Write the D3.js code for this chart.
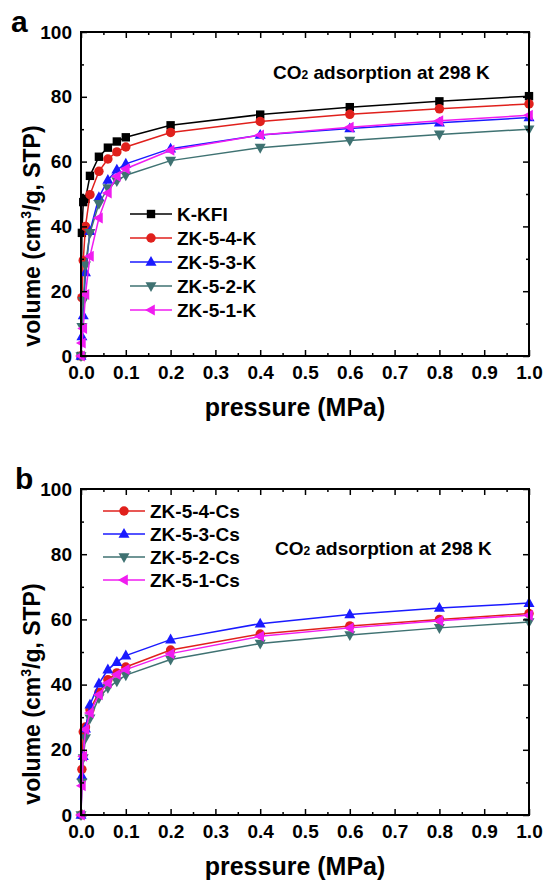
<!DOCTYPE html>
<html>
<head>
<meta charset="utf-8">
<script src="https://cdn.jsdelivr.net/npm/d3@7/dist/d3.min.js"></script>
<style>
  body { margin: 0; background: #fff; }
  svg { display: block; font-family: 'Liberation Sans', Arial, sans-serif; font-weight: bold; }
</style>
</head>
<body>
<svg id="chart" width="544" height="881"></svg>
<script>
// pressure points (MPa), shared by every isotherm
const pressure = [0, 0.002, 0.005, 0.01, 0.02, 0.04, 0.06, 0.08, 0.1, 0.2, 0.4, 0.6, 0.8, 1.0];

// panel a: K-form samples
const kKFI = [0, 38, 47.5, 48.5, 55.6, 61.5, 64.3, 66.2, 67.5, 71.2, 74.5, 76.8, 78.6, 80.2];
const zk54K = [0, 18, 29.5, 40, 49.8, 57, 60.8, 63, 64.5, 69, 72.4, 74.6, 76.3, 77.8];
const zk53K = [0, 6, 12.5, 25.8, 38.5, 49, 54.3, 57.5, 59.3, 64, 68.2, 70.2, 72, 73.6];
const zk52K = [0, 9, 17, 28, 38, 47, 51.8, 54, 55.8, 60.3, 64.3, 66.5, 68.4, 70];
const zk51K = [0, 4, 8.5, 19, 30.8, 42.6, 50.3, 55.5, 57.8, 63.5, 68.2, 70.6, 72.6, 74.3];

// panel b: Cs-form samples
const zk54Cs = [0, 14, 25.5, 27, 32.3, 37.6, 41.5, 43.6, 45.4, 50.6, 55.5, 58, 60, 61.8];
const zk53Cs = [0, 12, 18, 26.5, 33.8, 40.3, 44.6, 46.9, 48.9, 53.8, 58.7, 61.5, 63.5, 65];
const zk52Cs = [0, 10, 17.5, 23.6, 29.7, 35.9, 39, 41, 42.9, 47.7, 52.6, 55.2, 57.4, 59.2];
const zk51Cs = [0, 9, 18, 26.2, 31.3, 36.9, 40.5, 43.1, 44.6, 49.5, 54.8, 57.4, 59.6, 61.3];

const xTicks = [0, 0.1, 0.2, 0.3, 0.4, 0.5, 0.6, 0.7, 0.8, 0.9, 1.0];
const yTicks = [0, 20, 40, 60, 80, 100];

const color = {
  black: '#000000',
  red: '#e0201c',
  blue: '#1a1aff',
  teal: '#3f7272',
  magenta: '#f01cf0'
};

const panels = [
  {
    label: 'a', top: 32, bottom: 356,
    legend: { x: 130, y: 214, step: 24 },
    note: { x: 273, y: 79 },
    series: [
      { name: 'K-KFI', values: kKFI, color: color.black, symbol: 'square' },
      { name: 'ZK-5-4-K', values: zk54K, color: color.red, symbol: 'circle' },
      { name: 'ZK-5-3-K', values: zk53K, color: color.blue, symbol: 'up' },
      { name: 'ZK-5-2-K', values: zk52K, color: color.teal, symbol: 'down' },
      { name: 'ZK-5-1-K', values: zk51K, color: color.magenta, symbol: 'left' }
    ]
  },
  {
    label: 'b', top: 489, bottom: 815,
    legend: { x: 103, y: 511, step: 23 },
    note: { x: 275, y: 555 },
    series: [
      { name: 'ZK-5-4-Cs', values: zk54Cs, color: color.red, symbol: 'circle' },
      { name: 'ZK-5-3-Cs', values: zk53Cs, color: color.blue, symbol: 'up' },
      { name: 'ZK-5-2-Cs', values: zk52Cs, color: color.teal, symbol: 'down' },
      { name: 'ZK-5-1-Cs', values: zk51Cs, color: color.magenta, symbol: 'left' }
    ]
  }
];

const left = 81;
const right = 529;
const svg = d3.select('#chart');

// marker path centred on 0,0
function symbolPath(type) {
  if (type === 'square') return 'M-4.2,-4.2H4.2V4.2H-4.2Z';
  if (type === 'circle') return d3.symbol(d3.symbolCircle, 70)();
  if (type === 'up') return 'M0,-6L5.5,3.8H-5.5Z';
  if (type === 'down') return 'M0,6L5.5,-3.8H-5.5Z';
  return 'M-6,0L3.8,-5.5V5.5Z';
}

function drawPanel(p) {
  const x = d3.scaleLinear().domain([0, 1]).range([left, right]);
  const y = d3.scaleLinear().domain([0, 100]).range([p.bottom, p.top]);
  const g = svg.append('g');

  // curves
  const line = d3.line()
    .x((d, i) => x(pressure[i]))
    .y(d => y(d));

  p.series.forEach(s => {
    g.append('path')
      .attr('d', line(s.values))
      .attr('fill', 'none')
      .attr('stroke', s.color)
      .attr('stroke-width', 1.5);

    g.selectAll(null)
      .data(s.values)
      .join('path')
      .attr('d', symbolPath(s.symbol))
      .attr('transform', (d, i) => `translate(${x(pressure[i])},${y(d)})`)
      .attr('fill', s.color);
  });

  // axes: ticks point inward on all four sides
  const minorX = d3.range(0.05, 1, 0.1);
  const minorY = d3.range(10, 100, 20);

  const bottomAxis = g.append('g')
    .attr('transform', `translate(0,${p.bottom})`)
    .call(d3.axisBottom(x).tickValues(xTicks).tickFormat(d3.format('.1f')).tickSizeInner(-6).tickSizeOuter(0).tickPadding(10));
  g.append('g')
    .attr('transform', `translate(0,${p.bottom})`)
    .call(d3.axisBottom(x).tickValues(minorX).tickFormat('').tickSizeInner(-3).tickSizeOuter(0));
  g.append('g')
    .attr('transform', `translate(0,${p.top})`)
    .call(d3.axisTop(x).tickValues(xTicks).tickFormat('').tickSizeInner(-6).tickSizeOuter(0));
  g.append('g')
    .attr('transform', `translate(0,${p.top})`)
    .call(d3.axisTop(x).tickValues(minorX).tickFormat('').tickSizeInner(-3).tickSizeOuter(0));

  const leftAxis = g.append('g')
    .attr('transform', `translate(${left},0)`)
    .call(d3.axisLeft(y).tickValues(yTicks).tickSizeInner(-6).tickSizeOuter(0).tickPadding(9));
  g.append('g')
    .attr('transform', `translate(${left},0)`)
    .call(d3.axisLeft(y).tickValues(minorY).tickFormat('').tickSizeInner(-3).tickSizeOuter(0));
  g.append('g')
    .attr('transform', `translate(${right},0)`)
    .call(d3.axisRight(y).tickValues(yTicks).tickFormat('').tickSizeInner(-6).tickSizeOuter(0));
  g.append('g')
    .attr('transform', `translate(${right},0)`)
    .call(d3.axisRight(y).tickValues(minorY).tickFormat('').tickSizeInner(-3).tickSizeOuter(0));

  g.selectAll('.domain').remove();
  g.selectAll('.tick line').attr('stroke', '#000').attr('stroke-width', 1.5);
  bottomAxis.selectAll('text').attr('font-size', 19).attr('font-family', null).attr('fill', '#000');
  leftAxis.selectAll('text').attr('font-size', 19).attr('font-family', null).attr('fill', '#000');

  // frame
  g.append('rect')
    .attr('x', left).attr('y', p.top)
    .attr('width', right - left).attr('height', p.bottom - p.top)
    .attr('fill', 'none').attr('stroke', '#000').attr('stroke-width', 2);

  // axis titles
  g.append('text')
    .attr('x', (left + right) / 2 - 10)
    .attr('y', p.bottom + 60)
    .attr('text-anchor', 'middle')
    .attr('font-size', 25)
    .text('pressure (MPa)');

  const yTitle = g.append('text')
    .attr('transform', `translate(40,${(p.top + p.bottom) / 2 + 42}) rotate(-90)`)
    .attr('text-anchor', 'middle')
    .attr('font-size', 23);
  yTitle.append('tspan').text('volume (cm');
  yTitle.append('tspan').attr('font-size', 14).attr('dy', -9).text('3');
  yTitle.append('tspan').attr('dy', 9).text('/g, STP)');

  // panel letter
  g.append('text')
    .attr('x', p.label === 'a' ? 11 : 15)
    .attr('y', p.top + 0)
    .attr('font-size', 30)
    .text(p.label);

  // note
  const note = g.append('text')
    .attr('x', p.note.x)
    .attr('y', p.note.y)
    .attr('font-size', 19);
  note.append('tspan').text('CO');
  note.append('tspan').attr('font-size', 12).text('2');
  note.append('tspan').text(' adsorption at 298 K');

  // legend
  const lg = g.append('g')
    .selectAll('g')
    .data(p.series)
    .join('g')
    .attr('transform', (d, i) => `translate(${p.legend.x},${p.legend.y + i * p.legend.step})`);
  lg.append('line')
    .attr('x1', 0).attr('x2', 42)
    .attr('stroke', d => d.color).attr('stroke-width', 1.5);
  lg.append('path')
    .attr('d', d => symbolPath(d.symbol))
    .attr('transform', 'translate(21,0)')
    .attr('fill', d => d.color);
  lg.append('text')
    .attr('x', 47)
    .attr('y', 7)
    .attr('font-size', 19)
    .text(d => d.name);
}

panels.forEach(drawPanel);
</script>
</body>
</html>
